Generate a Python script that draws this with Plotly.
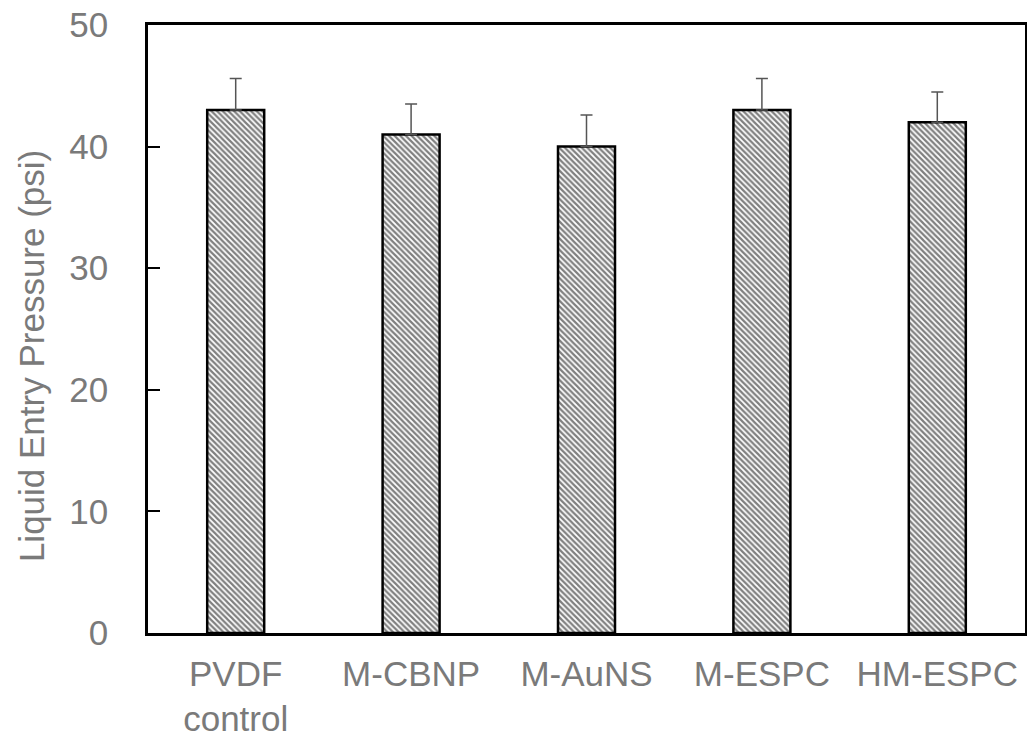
import plotly.graph_objects as go

categories = ["PVDF<br>control", "M-CBNP", "M-AuNS", "M-ESPC", "HM-ESPC"]
values = [43, 41, 40, 43, 42]
errors = [2.6, 2.5, 2.6, 2.6, 2.5]
y_ticks = [0, 10, 20, 30, 40, 50]
y_title = "Liquid Entry Pressure (psi)"

text_color = "#7a7a7a"
font_family = "Liberation Sans, Arial, sans-serif"

fig = go.Figure()
fig.add_trace(go.Bar(
    x=categories,
    y=values,
    width=0.325,
    marker=dict(
        color="white",
        line=dict(color="black", width=2.5),
        pattern=dict(shape="\\", fgcolor="black", bgcolor="white", size=4, solidity=0.55),
    ),
    error_y=dict(
        type="data",
        symmetric=False,
        array=errors,
        arrayminus=[0] * len(errors),
        color="#555555",
        thickness=1.5,
        width=6,
    ),
))

fig.update_layout(
    width=1027,
    height=741,
    margin=dict(l=148, r=2, t=25, b=108),
    paper_bgcolor="white",
    plot_bgcolor="white",
    showlegend=False,
    font=dict(family=font_family, size=35, color=text_color),
    bargap=0.675,
    annotations=[dict(
        text=y_title, textangle=-90, xref="paper", yref="paper",
        x=-0.133, y=0.456, xanchor="center", yanchor="middle",
        showarrow=False, font=dict(size=35, color=text_color),
    )],
)

fig.update_xaxes(
    showline=True, linecolor="black", linewidth=2.5, mirror=True,
    ticks="", showgrid=False, automargin=False,
    tickfont=dict(size=35, color=text_color),
    ticklabelstandoff=8,
)
fig.update_yaxes(
    range=[0, 50],
    tickvals=y_ticks,
    showline=True, linecolor="black", linewidth=2.5, mirror=True,
    ticks="inside", ticklen=12, tickwidth=2, tickcolor="black",
    showgrid=False, zeroline=False, automargin=False,
    tickfont=dict(size=35, color=text_color),
    ticklabelstandoff=30,
)

fig.write_html("out.html")
